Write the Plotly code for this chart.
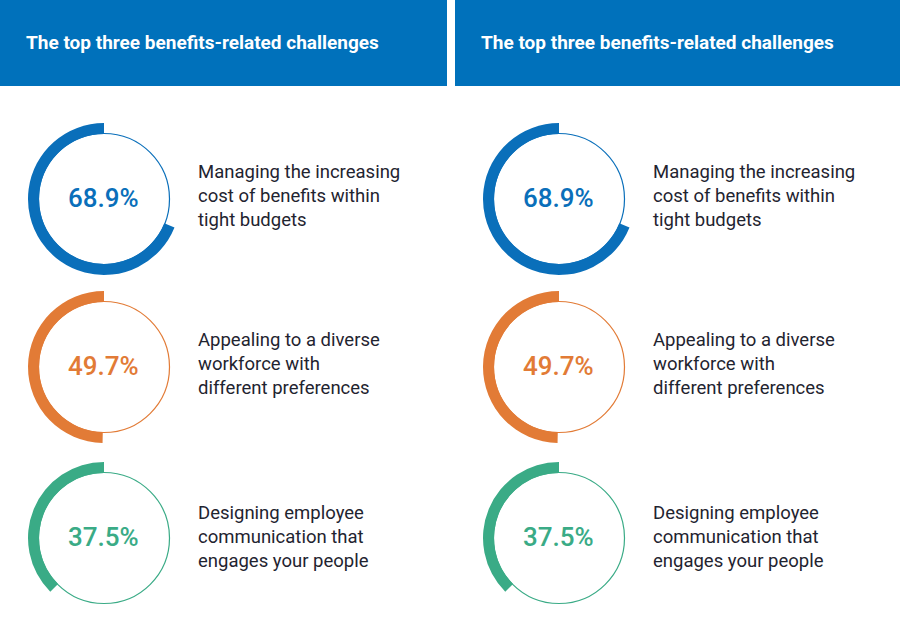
import plotly.graph_objects as go

W, H = 900, 643

panel_title = "The top three benefits-related challenges"
percents = [68.9, 49.7, 37.5]
labels = [
    "Managing the increasing<br>cost of benefits within<br>tight budgets",
    "Appealing to a diverse<br>workforce with<br>different preferences",
    "Designing employee<br>communication that<br>engages your people",
]
colors = ["#0a6fba", "#e27b36", "#3aab86"]
header_color = "#0071bb"
text_color = "#1f2430"

panel_x = [0, 455]          # panel left offset in px
ring_cx = 104               # ring center x within panel
ring_cy = [199, 367, 538]   # ring centers y
label_cy = [196, 364, 537]
R_OUT = 76
R_IN = 65.5

fig = go.Figure()

def dom(cx, cy, r):
    return dict(x=[(cx - r) / W, (cx + r) / W], y=[1 - (cy + r) / H, 1 - (cy - r) / H])

annotations = []
shapes = []
for p_i, px in enumerate(panel_x):
    x1 = 447 if p_i == 0 else 900
    shapes.append(dict(type="rect", xref="paper", yref="paper",
                       x0=px / W, x1=x1 / W, y0=1 - 86 / H, y1=1,
                       fillcolor=header_color, line=dict(width=0), layer="below"))
    annotations.append(dict(x=(px + 24) / W, y=1 - 42 / H, xref="paper", yref="paper",
                            text="<b>" + panel_title + "</b>", showarrow=False,
                            xanchor="left", yanchor="middle",
                            font=dict(family="Roboto", size=19, color="white")))
    for i, (pct, lab, col) in enumerate(zip(percents, labels, colors)):
        cx = px + ring_cx
        cy = ring_cy[i]
        # thin full circle
        fig.add_trace(go.Pie(values=[100], domain=dom(cx, cy, R_IN), sort=False,
                             marker=dict(colors=["rgba(0,0,0,0)"], line=dict(color=col, width=1.2)),
                             textinfo="none", hoverinfo="skip", showlegend=False))
        # thick arc: remainder first (transparent), then the value ending at 12 o'clock
        fig.add_trace(go.Pie(values=[100 - pct, pct], domain=dom(cx, cy, R_OUT),
                             hole=(R_OUT - 11) / R_OUT, sort=False,
                             direction="clockwise", rotation=0,
                             marker=dict(colors=["rgba(0,0,0,0)", col], line=dict(width=0)),
                             textinfo="none", hoverinfo="skip", showlegend=False))
        annotations.append(dict(x=(cx - 1) / W, y=1 - (cy - 1) / H, xref="paper", yref="paper",
                                text=f"{pct:.1f}%", showarrow=False,
                                xanchor="center", yanchor="middle",
                                font=dict(family="Roboto Medium, Roboto", size=26, color=col)))
        annotations.append(dict(x=(px + 196) / W, y=1 - label_cy[i] / H, xref="paper", yref="paper",
                                text=lab, showarrow=False, align="left",
                                xanchor="left", yanchor="middle",
                                font=dict(family="Roboto", size=18.5, color=text_color)))

fig.update_layout(width=W, height=H, margin=dict(l=0, r=0, t=0, b=0),
                  paper_bgcolor="white", plot_bgcolor="white",
                  shapes=shapes, annotations=annotations, showlegend=False)

fig.write_html("out.html")
